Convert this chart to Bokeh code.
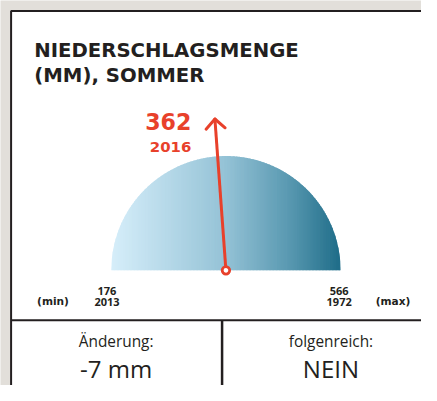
import numpy as np
from bokeh.plotting import figure
from bokeh.models import Range1d
from bokeh.core.properties import value
from bokeh.embed import file_html
from bokeh.resources import INLINE

# ---- data ----
title_lines = ["NIEDERSCHLAGSMENGE", "(MM), SOMMER"]
min_value = 176
min_year = "2013"
max_value = 566
max_year = "1972"
current_value = 362
current_year = "2016"
change_label = "Änderung:"
change_value = "-7 mm"
consequence_label = "folgenreich:"
consequence_value = "NEIN"

# ---- style ----
RED = "#e8412b"
DARK = "#231f20"
BG = "#e2dfda"
grad_stops = [(0.0, (214, 238, 250)), (0.5, (148, 194, 214)), (0.78, (88, 152, 176)), (1.0, (30, 108, 136))]

REF_W, REF_H = 437, 401
W, H = 421, 385
S = min(W / REF_W, H / REF_H)


def fs(px):
    return "%.1fpx" % (px * S)


p = figure(width=W, height=H, output_backend="svg", toolbar_location=None,
           x_range=Range1d(0, REF_W), y_range=Range1d(REF_H, 0),
           x_axis_type=None, y_axis_type=None, min_border=0, title=None,
           background_fill_color=BG, border_fill_color=BG, outline_line_color=None)
p.grid.visible = False

# card
p.quad(left=11, right=480, top=11, bottom=450, fill_color="white",
       line_color=DARK, line_width=2)
p.segment(x0=11, y0=333, x1=480, y1=333, line_color=DARK, line_width=2)
p.segment(x0=230, y0=333, x1=230, y1=450, line_color=DARK, line_width=2.5)


def label(x, y, txt, size, font="Open Sans", bold=False, color=DARK, align="center"):
    p.text(x=x, y=y, text=[txt], text_font=value(font),
           text_font_style="bold" if bold else "normal", text_font_size=fs(size),
           text_color=color, text_align=align, text_baseline="middle")


# title
label(35, 52, title_lines[0], 20.5, font="DejaVu Sans", bold=True, align="left")
label(35, 78, title_lines[1], 20.5, font="DejaVu Sans", bold=True, align="left")

# gauge geometry
cx, cy, r = 234.0, 281.0, 119.0


def interp_color(f):
    for (f0, c0), (f1, c1) in zip(grad_stops[:-1], grad_stops[1:]):
        if f <= f1:
            t = (f - f0) / (f1 - f0)
            c = [int(round(a + (b - a) * t)) for a, b in zip(c0, c1)]
            return "#%02x%02x%02x" % tuple(c)
    return "#%02x%02x%02x" % grad_stops[-1][1]


N = 160
xs_list, ys_list, cols = [], [], []
edges = np.linspace(-r, r, N + 1)
for i in range(N):
    a = edges[i]
    b = min(edges[i + 1] + 0.8, r)
    sub = np.linspace(a, b, 5)
    hs = np.sqrt(np.clip(r * r - sub ** 2, 0, None))
    xs_list.append(list(cx + sub) + [cx + b, cx + a])
    ys_list.append(list(cy - hs) + [cy, cy])
    cols.append(interp_color((0.5 * (edges[i] + edges[i + 1]) + r) / (2 * r)))
p.patches(xs=xs_list, ys=ys_list, fill_color=cols, line_color=None)

# needle
frac = (current_value - min_value) / (max_value - min_value)
ang = np.pi * (1 - frac)
L = 158.0
tx, ty = cx + L * np.cos(ang), cy - L * np.sin(ang)
p.segment(x0=cx, y0=cy, x1=tx, y1=ty, line_color=RED, line_width=3.0)
arm = 14.0
for d in (+1, -1):
    a2 = ang + np.pi + d * np.radians(45)
    p.segment(x0=tx, y0=ty, x1=tx + arm * np.cos(a2), y1=ty - arm * np.sin(a2),
              line_color=RED, line_width=3.0, line_cap="round")
p.scatter(x=[cx], y=[cy], size=7.5, marker="circle", fill_color="white",
          line_color=RED, line_width=2.8)

# current value labels
label(198, 126, str(current_value), 23, font="DejaVu Sans", bold=True, color=RED, align="right")
label(198, 152.5, current_year, 15.5, font="DejaVu Sans", bold=True, color=RED, align="right")

# min / max labels
for xv, v, yr in ((110.5, min_value, min_year), (351.5, max_value, max_year)):
    label(xv, 303, str(v), 11.5, bold=True)
    label(xv, 314.5, yr, 11.5, bold=True)
label(54.5, 313, "(min)", 11, font="DejaVu Sans", bold=True)
label(407.5, 313, "(max)", 11, font="DejaVu Sans", bold=True)

# bottom cells
for xv, lab, val in ((120, change_label, change_value), (343, consequence_label, consequence_value)):
    label(xv, 355, lab, 16)
    label(xv, 383, val, 25)

open("out.html", "w").write(file_html(p, INLINE))
